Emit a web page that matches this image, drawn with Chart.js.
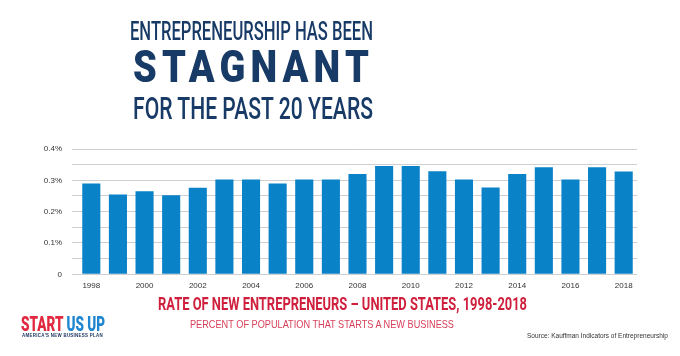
<!DOCTYPE html>
<html>
<head>
<meta charset="utf-8">
<script src="https://cdn.jsdelivr.net/npm/chart.js@4"></script>
<style>
  html, body { margin: 0; padding: 0; background: #ffffff; }
  #wrap { position: relative; width: 680px; height: 356px; overflow: hidden; background: #fff; }
  #c { position: absolute; left: 0; top: 0; }
  .t { position: absolute; white-space: nowrap; line-height: 1; transform-origin: 0 0; display: inline-block; }
  .navy { color: #183a66; font-family: Roboto, "Liberation Sans", sans-serif; }
</style>
</head>
<body>
<div id="wrap">
  <canvas id="c" width="680" height="356"></canvas>
  <span class="t navy fit" data-w="243" style="left:130px; top:18.8px; font-size:25px; font-weight:500;">ENTREPRENEURSHIP HAS BEEN</span>
  <span class="t navy fit" data-w="241" style="left:133px; top:45px; font-size:44px; font-weight:900; letter-spacing:6px;">STAGNANT</span>
  <span class="t navy fit" data-w="240" style="left:133px; top:91.8px; font-size:32px; font-weight:500;">FOR THE PAST 20 YEARS</span>

  <span class="t fit" data-w="369" style="left:158px; top:294.6px; font-size:18px; font-weight:700; color:#cf1f3c; font-family:Roboto, 'Liberation Sans', sans-serif;">RATE OF NEW ENTREPRENEURS – UNITED STATES, 1998-2018</span>
  <span class="t fit" data-w="264" style="left:190px; top:318.5px; font-size:11px; font-weight:400; color:#d8405a; font-family:'Liberation Sans', Arial, sans-serif;">PERCENT OF POPULATION THAT STARTS A NEW BUSINESS</span>

  <span class="t fit" data-w="84" style="left:21px; top:314px; font-size:21px; font-weight:900; font-family:Roboto, 'Liberation Sans', sans-serif;"><span style="color:#e2283e">START</span><span style="color:#1f86cf"> US UP</span></span>
  <span class="t fit" data-w="81" style="left:22px; top:333.5px; font-size:4.5px; font-weight:700; color:#1c3560; font-family:'Liberation Sans', Arial, sans-serif; letter-spacing:0.3px;">AMERICA'S NEW BUSINESS PLAN</span>

  <span class="t fit" data-w="141" style="left:527px; top:332px; font-size:8px; color:#333; font-family:'Liberation Sans', Arial, sans-serif;">Source: Kauffman Indicators of Entrepreneurship</span>
</div>
<script>
// ---- data ----
const categories = ['1998','1999','2000','2001','2002','2003','2004','2005','2006','2007','2008','2009','2010','2011','2012','2013','2014','2015','2016','2017','2018'];
const rateValues = [0.29, 0.255, 0.265, 0.252, 0.276, 0.303, 0.303, 0.29, 0.303, 0.303, 0.32, 0.346, 0.346, 0.329, 0.303, 0.277, 0.32, 0.342, 0.303, 0.342, 0.328];
const yTickLabels = ['0', '', '0.1%', '', '0.2%', '', '0.3%', '', '0.4%'];
const xTickLabels = ['1998','','2000','','2002','','2004','','2006','','2008','','2010','','2012','','2014','','2016','','2018'];

// ---- fit condensed headline text to widths ----
document.querySelectorAll('.fit').forEach(el => {
  const w = el.getBoundingClientRect().width;
  const target = parseFloat(el.dataset.w);
  el.style.transform = 'scaleX(' + (target / w) + ')';
});

new Chart(document.getElementById('c'), {
  type: 'bar',
  data: {
    labels: categories,
    datasets: [{
      data: rateValues,
      backgroundColor: '#0a82c8',
      borderWidth: 0,
      categoryPercentage: 1,
      barPercentage: 0.68
    }]
  },
  options: {
    responsive: false,
    animation: false,
    devicePixelRatio: 1,
    layout: { padding: { top: 149, right: 43, bottom: 0, left: 0 } },
    plugins: { legend: { display: false }, tooltip: { enabled: false }, title: { display: false } },
    scales: {
      x: {
        grid: { display: false, drawTicks: false },
        border: { display: false },
        afterFit: s => { s.height = 81.7; },
        ticks: {
          autoSkip: false, maxRotation: 0, minRotation: 0, padding: 7,
          color: '#333', font: { family: "'Liberation Sans', Arial, sans-serif", size: 8 },
          callback: (v, i) => xTickLabels[i]
        }
      },
      y: {
        min: 0, max: 0.4,
        afterFit: s => { s.width = 78; },
        afterBuildTicks: s => { s.ticks = yTickLabels.map((_, i) => ({ value: i * 0.05 })); },
        grid: { color: '#cfcfcf', lineWidth: 1, drawTicks: true, tickLength: 6 },
        border: { display: false },
        ticks: {
          padding: 10,
          color: '#333', font: { family: "'Liberation Sans', Arial, sans-serif", size: 8 },
          callback: (v, i) => yTickLabels[i]
        }
      }
    }
  }
});
</script>
</body>
</html>
